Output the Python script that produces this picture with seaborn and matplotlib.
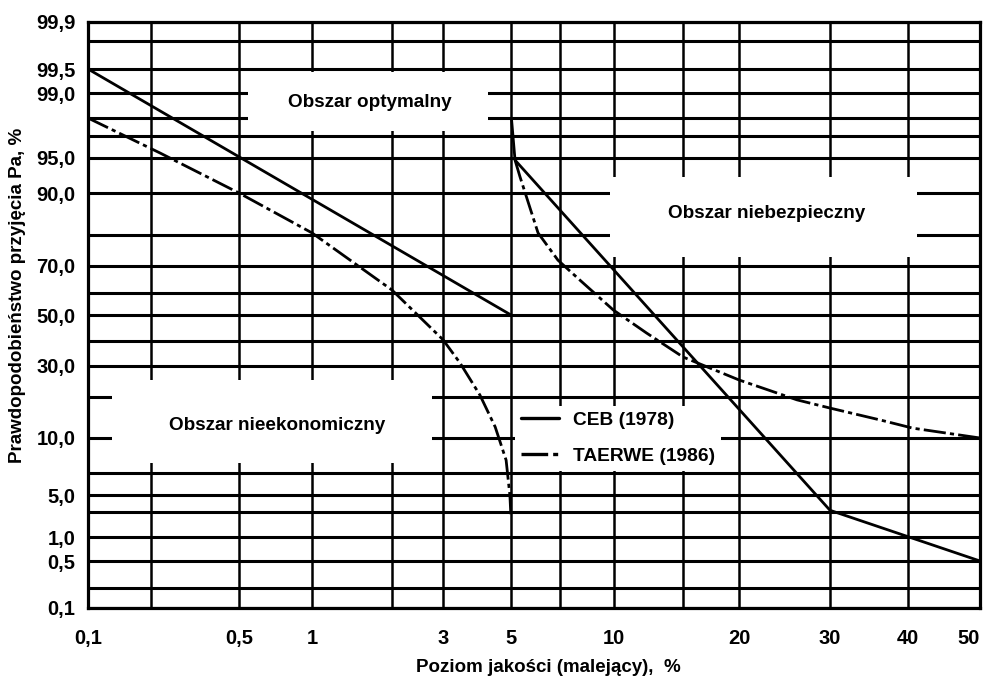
import numpy as np
import pandas as pd
import seaborn as sns
import matplotlib
matplotlib.use("Agg")
import matplotlib.pyplot as plt
from matplotlib.patches import Rectangle

# --- os X: poziom jakosci (malejacy), %
x_major = [0.1, 0.5, 1, 3, 5, 10, 20, 30, 40, 50]
x_major_labels = ["0,1", "0,5", "1", "3", "5", "10", "20", "30", "40", "50"]
x_minor = [0.2, 2, 7, 15]

# --- os Y: prawdopodobienstwo przyjecia Pa, %
y_major = [0.1, 0.5, 1.0, 5.0, 10.0, 30.0, 50.0, 70.0, 90.0, 95.0, 99.0, 99.5, 99.9]
y_major_labels = ["0,1", "0,5", "1,0", "5,0", "10,0", "30,0", "50,0", "70,0",
                  "90,0", "95,0", "99,0", "99,5", "99,9"]
y_minor = [0.2, 3, 7, 20, 40, 60, 80, 97, 98, 99.8]

# --- krzywe
ceb_x1 = [0.1, 5.0]
ceb_y1 = [99.5, 50.0]
ceb_x2 = [5.02, 5.14, 30.0, 50.0]
ceb_y2 = [97.9, 94.7, 3.2, 0.5]

taerwe_x1 = [0.1, 0.22, 0.5, 1.0, 2.0, 3.0, 3.41, 3.96, 4.44, 4.82, 4.96, 5.0]
taerwe_y1 = [98.0, 95.45, 90.0, 80.5, 61.1, 40.5, 31.2, 20.6, 12.7, 8.1, 4.9, 2.5]
taerwe_x2 = [5.14, 5.32, 6.02, 6.9, 7.98, 9.95, 12.1, 15.0, 20.0, 25.9, 30.0, 36.1, 40.6, 50.0]
taerwe_y2 = [94.7, 92.3, 80.5, 71.9, 64.8, 52.3, 43.1, 33.6, 25.5, 19.3, 17.3, 14.4, 12.4, 10.0]

CEB = "CEB (1978)"
TAERWE = "TAERWE (1986)"

# siatka papieru nie jest ani czysto log, ani probit -> skala odcinkowa
# (polozenie kazdej linii siatki na papierze, w pikselach od lewej / od dolu)
x_grid_vals = [0.1, 0.2, 0.5, 1, 2, 3, 5, 7, 10, 15, 20, 30, 40, 50]
x_grid_pos = [0, 63, 151, 224, 304, 355, 423, 472, 526, 595, 651, 742, 820, 892]
y_grid_vals = [0.1, 0.2, 0.5, 1, 3, 5, 7, 10, 20, 30, 40, 50, 60, 70, 80, 90,
               95, 97, 98, 99, 99.5, 99.8, 99.9]
y_grid_pos = [0, 20, 47, 71, 96, 113, 135, 170, 211, 242, 267, 293, 315, 342,
              373, 415, 450, 472, 490, 515, 539, 567, 586]

x_log = np.log10(x_grid_vals)


def fwd_x(v):
    return np.interp(np.log10(np.clip(v, 1e-9, None)), x_log, x_grid_pos)


def inv_x(p):
    return 10 ** np.interp(p, x_grid_pos, x_log)


def fwd_y(v):
    return np.interp(v, y_grid_vals, y_grid_pos)


def inv_y(p):
    return np.interp(p, y_grid_pos, y_grid_vals)


def make_df():
    parts = []
    for name, seg, xs, ys in [(CEB, "c1", ceb_x1, ceb_y1), (CEB, "c2", ceb_x2, ceb_y2),
                              (TAERWE, "t1", taerwe_x1, taerwe_y1),
                              (TAERWE, "t2", taerwe_x2, taerwe_y2)]:
        parts.append(pd.DataFrame({"x": xs, "y": ys, "seria": name, "odcinek": seg}))
    return pd.concat(parts, ignore_index=True)


sns.set_style("white")
plt.rcParams['font.family'] = ['Liberation Sans', 'DejaVu Sans']
plt.rcParams['font.weight'] = 'bold'
plt.rcParams['text.color'] = 'black'
plt.rcParams['axes.labelcolor'] = 'black'
plt.rcParams['axes.labelweight'] = 'bold'

fig = plt.figure(figsize=(9.87, 6.78), dpi=100)
ax = fig.add_axes([88 / 987, 1 - 608 / 678, 892 / 987, 586 / 678])
ax.set_xscale('function', functions=(fwd_x, inv_x))
ax.set_yscale('function', functions=(fwd_y, inv_y))

df = make_df()
sns.lineplot(data=df, x="x", y="y", style="seria", units="odcinek", estimator=None,
             sort=False, color="black", linewidth=2.0,
             dashes={CEB: "", TAERWE: (8, 1.5, 1.5, 1.5)}, ax=ax)

ax.set_xlim(0.1, 50)
ax.set_ylim(0.1, 99.9)
ax.set_xticks(x_major, labels=x_major_labels)
ax.set_xticks(x_minor, minor=True)
ax.set_yticks(y_major, labels=y_major_labels)
ax.set_yticks(y_minor, minor=True)
ax.set_axisbelow(True)
ax.grid(which="both", axis="x", color="black", linewidth=1.8)
ax.grid(which="both", axis="y", color="black", linewidth=2.2)
ax.tick_params(which="both", length=0, labelsize=14.5, colors="black")
ax.tick_params(axis="x", pad=15)
ax.tick_params(axis="y", pad=9)
xt = ax.get_xticklabels()
xt[-1].set_ha("right")
for sp in ax.spines.values():
    sp.set_visible(True)
    sp.set_color("black")
    sp.set_linewidth(2.3)

# biale pola pod napisami obszarow
boxes = [(0.179, 0.814, 0.269, 0.101),
         (0.585, 0.599, 0.344, 0.136),
         (0.027, 0.247, 0.359, 0.142)]
for bx, by, bw, bh in boxes:
    ax.add_patch(Rectangle((bx, by), bw, bh, transform=ax.transAxes,
                           facecolor="white", edgecolor="none", zorder=1))

ax.text(0.316, 0.863, "Obszar optymalny", transform=ax.transAxes,
        ha="center", va="center", fontsize=13.6)
ax.text(0.761, 0.674, "Obszar niebezpieczny", transform=ax.transAxes,
        ha="center", va="center", fontsize=13.6)
ax.text(0.212, 0.312, "Obszar nieekonomiczny", transform=ax.transAxes,
        ha="center", va="center", fontsize=13.6)

handles, labels = ax.get_legend_handles_labels()
leg = ax.legend(handles, labels, loc="upper left", bbox_to_anchor=(0.479, 0.345),
                borderaxespad=0, borderpad=0.3, handlelength=2.0, handletextpad=0.7,
                labelspacing=0.98, fontsize=13.8, frameon=True, fancybox=False,
                framealpha=1, facecolor="white", edgecolor="none")
for h in leg.legend_handles:
    h.set_linewidth(2.4)

ax.set_xlabel("Poziom jakości (malejący),  %", fontsize=13.5)
ax.xaxis.set_label_coords(0.516, -0.087)
ax.set_ylabel("Prawdopodobieństwo przyjęcia Pa, %", fontsize=13.5)
ax.yaxis.set_label_coords(-0.07, 0.534)

fig.savefig("out.png", dpi=100, facecolor="white")
